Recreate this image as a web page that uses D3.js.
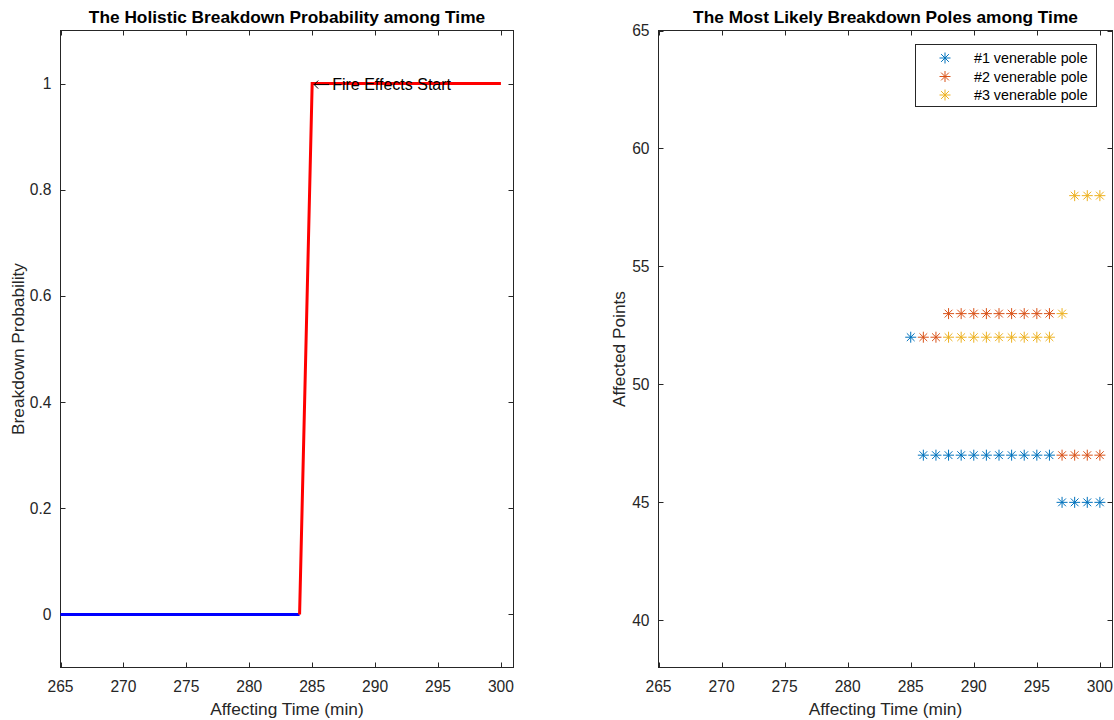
<!DOCTYPE html>
<html>
<head>
<meta charset="utf-8">
<script src="https://cdn.jsdelivr.net/npm/d3@7"></script>
<style>
  html, body { margin: 0; padding: 0; background: #fff; }
  svg { display: block; }
  text { font-family: "Liberation Sans", Arial, Helvetica, sans-serif; }
</style>
</head>
<body>
<svg id="chart" width="1114" height="720"></svg>
<script>
// ---- Left panel: probability over time ----
const preTime = [265, 284];          // before the fire reaches the line
const preProb = [0, 0];
const postTime = [284, 285, 300];    // after the fire effects start
const postProb = [0, 1, 1];
const probTicks = [0, 0.2, 0.4, 0.6, 0.8, 1];
const timeTicks = [265, 270, 275, 280, 285, 290, 295, 300];
const annotationTime = 285, annotationProb = 1;
const annotationText = "Fire Effects Start";

// ---- Right panel: the three most vulnerable poles per minute ----
const pole1Time = [285, 286, 287, 288, 289, 290, 291, 292, 293, 294, 295, 296, 297, 298, 299, 300];
const pole1Point = [52, 47, 47, 47, 47, 47, 47, 47, 47, 47, 47, 47, 45, 45, 45, 45];
const pole2Time = [286, 287, 288, 289, 290, 291, 292, 293, 294, 295, 296, 297, 298, 299, 300];
const pole2Point = [52, 52, 53, 53, 53, 53, 53, 53, 53, 53, 53, 47, 47, 47, 47];
const pole3Time = [288, 289, 290, 291, 292, 293, 294, 295, 296, 297, 298, 299, 300];
const pole3Point = [52, 52, 52, 52, 52, 52, 52, 52, 52, 53, 58, 58, 58];
const pointTicks = [40, 45, 50, 55, 60, 65];
const legendLabels = ["#1 venerable pole", "#2 venerable pole", "#3 venerable pole"];
const seriesColors = ["#0072BD", "#D95319", "#EDB120"];

const svg = d3.select("#chart");
const axisColor = "#262626";
const tickLen = 5;
const tickFont = 15.6, labelFont = 17.3, titleFont = 17.3;

function drawFrame(g, x, y, xTicks, yTicks, yFmt) {
  const [x0, x1] = x.range();
  const [y0, y1] = y.range(); // y0 bottom, y1 top
  g.append("rect").attr("x", x0).attr("y", y1).attr("width", x1 - x0).attr("height", y0 - y1)
    .attr("fill", "#fff").attr("stroke", axisColor).attr("stroke-width", 1);
  // inward ticks on all four sides
  xTicks.forEach(t => {
    const px = Math.round(x(t)) + 0.5;
    g.append("line").attr("x1", px).attr("x2", px).attr("y1", y0).attr("y2", y0 - tickLen).attr("stroke", axisColor);
    g.append("line").attr("x1", px).attr("x2", px).attr("y1", y1).attr("y2", y1 + tickLen).attr("stroke", axisColor);
    g.append("text").attr("x", x(t)).attr("y", y0 + 24).attr("text-anchor", "middle")
      .attr("font-size", tickFont).attr("fill", axisColor).text(t);
  });
  yTicks.forEach(t => {
    const py = Math.round(y(t)) + 0.5;
    g.append("line").attr("x1", x0).attr("x2", x0 + tickLen).attr("y1", py).attr("y2", py).attr("stroke", axisColor);
    g.append("line").attr("x1", x1).attr("x2", x1 - tickLen).attr("y1", py).attr("y2", py).attr("stroke", axisColor);
    g.append("text").attr("x", x0 - 9).attr("y", y(t)).attr("dy", "0.35em").attr("text-anchor", "end")
      .attr("font-size", tickFont).attr("fill", axisColor).text(yFmt(t));
  });
}

function labels(g, x, y, title, xLabel, yLabel, yLabelX) {
  const [x0, x1] = x.range();
  const [y0, y1] = y.range();
  const cx = (x0 + x1) / 2;
  g.append("text").attr("x", cx).attr("y", y1 - 8).attr("text-anchor", "middle")
    .attr("font-size", titleFont).attr("font-weight", "bold").attr("fill", "#000").text(title);
  g.append("text").attr("x", cx).attr("y", y0 + 47).attr("text-anchor", "middle")
    .attr("font-size", labelFont).attr("fill", axisColor).text(xLabel);
  g.append("text").attr("transform", `translate(${yLabelX},${(y0 + y1) / 2}) rotate(-90)`)
    .attr("text-anchor", "middle").attr("font-size", labelFont).attr("fill", axisColor).text(yLabel);
}

// ---------- Left panel ----------
const xL = d3.scaleLinear().domain([265, 301]).range([60.5, 513.5]);
const yL = d3.scaleLinear().domain([-0.1, 1.1]).range([667.5, 30.5]);
const gL = svg.append("g");
drawFrame(gL, xL, yL, timeTicks, probTicks, d => d3.format("")(+d.toFixed(1)));
labels(gL, xL, yL, "The Holistic Breakdown Probability among Time", "Affecting Time (min)", "Breakdown Probability", 24);

const lineL = d3.line().x(d => xL(d[0])).y(d => yL(d[1]));
gL.append("path").datum(preTime.map((t, i) => [t, preProb[i]]))
  .attr("d", lineL).attr("fill", "none").attr("stroke", "#0000FF").attr("stroke-width", 3);
gL.append("path").datum(postTime.map((t, i) => [t, postProb[i]]))
  .attr("d", lineL).attr("fill", "none").attr("stroke", "#FF0000").attr("stroke-width", 3);

// annotation: left arrow followed by text
const ax = xL(annotationTime), ay = yL(annotationProb);
const ann = gL.append("g").attr("stroke", "#000").attr("stroke-width", 1).attr("fill", "none");
ann.append("line").attr("x1", ax + 2).attr("x2", ax + 17).attr("y1", ay + 1).attr("y2", ay + 1);
ann.append("path").attr("d", `M${ax + 6},${ay - 3} L${ax + 2},${ay + 1} L${ax + 6},${ay + 5}`);
gL.append("text").attr("x", ax + 20).attr("y", ay + 1).attr("dy", "0.35em")
  .attr("font-size", 16).attr("fill", "#000").text(annotationText);

// ---------- Right panel ----------
const xR = d3.scaleLinear().domain([265, 301]).range([658.5, 1112.5]);
const yR = d3.scaleLinear().domain([38, 65]).range([667.5, 30.5]);
const gR = svg.append("g");
drawFrame(gR, xR, yR, timeTicks, pointTicks, d => d);
labels(gR, xR, yR, "The Most Likely Breakdown Poles among Time", "Affecting Time (min)", "Affected Points", 625);

function asterisk(sel, r) {
  const d = r * 0.7071;
  sel.attr("d", `M${-r},0H${r}M0,${-r}V${r}M${-d},${-d}L${d},${d}M${-d},${d}L${d},${-d}`);
}

const series = [
  pole1Time.map((t, i) => [t, pole1Point[i]]),
  pole2Time.map((t, i) => [t, pole2Point[i]]),
  pole3Time.map((t, i) => [t, pole3Point[i]])
];
series.forEach((pts, si) => {
  gR.append("g").selectAll("path").data(pts).join("path")
    .attr("transform", d => `translate(${xR(d[0])},${yR(d[1])})`)
    .call(asterisk, 5.5)
    .attr("fill", "none").attr("stroke", seriesColors[si]).attr("stroke-width", 1);
});

// legend
const lg = gR.append("g");
lg.append("rect").attr("x", 915.5).attr("y", 44.5).attr("width", 181).attr("height", 62)
  .attr("fill", "#fff").attr("stroke", axisColor).attr("stroke-width", 1);
legendLabels.forEach((lab, i) => {
  const ly = 58 + i * 18.5;
  lg.append("path").attr("transform", `translate(945,${ly})`).call(asterisk, 5.5)
    .attr("fill", "none").attr("stroke", seriesColors[i]).attr("stroke-width", 1);
  lg.append("text").attr("x", 974).attr("y", ly).attr("dy", "0.35em")
    .attr("font-size", 14.3).attr("fill", "#000").text(lab);
});
</script>
</body>
</html>
